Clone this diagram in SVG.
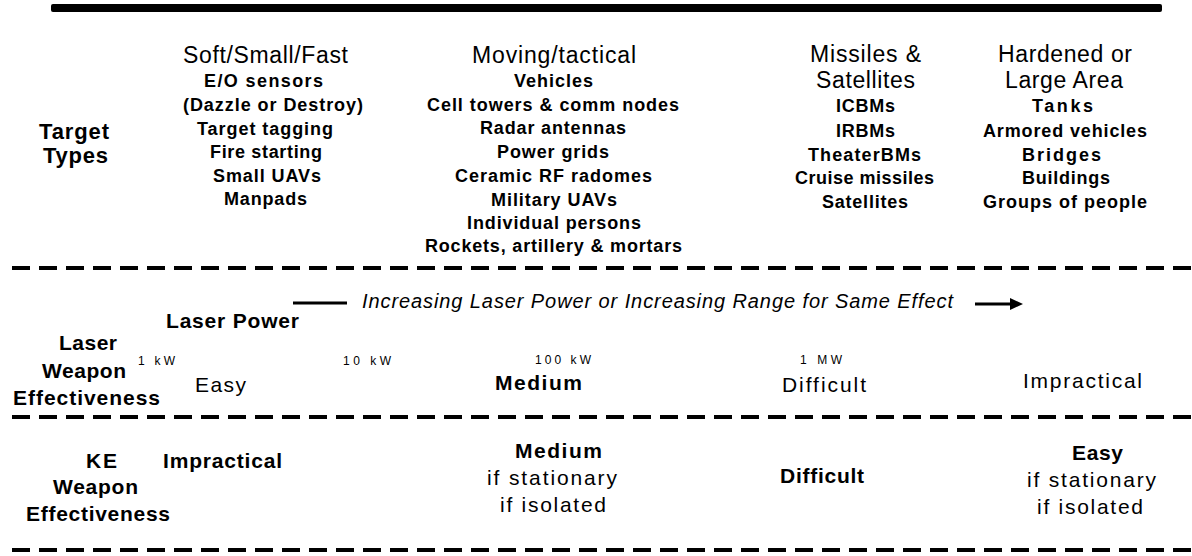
<svg xmlns="http://www.w3.org/2000/svg" width="1192" height="556" viewBox="0 0 1192 556">
<defs>
<style>
text{font-family:"Liberation Sans",Arial,Helvetica,sans-serif;fill:#000}
.hd{font-size:23px}
.it{font-size:18px;font-weight:bold}
.tt{font-size:22px;font-weight:bold}
.lb{font-size:21px;font-weight:bold}
.lp{font-size:21px;font-weight:bold}
.vr{font-size:21px}
.vb{font-size:21px;font-weight:bold}
.sm{font-size:12px}
.ital{font-size:20px;font-style:italic}
.dash{stroke:#000;stroke-width:4;stroke-dasharray:18 9;fill:none}
.conn{stroke:#000;stroke-width:3;fill:none}
</style>
</defs>
<rect x="0" y="0" width="1192" height="556" fill="#fff"/>
<rect x="51" y="4" width="1111" height="8" rx="2" fill="#000"/>
<line class="dash" x1="12" y1="268" x2="1192" y2="268"/>
<line class="dash" x1="12" y1="417" x2="1192" y2="417"/>
<line class="dash" x1="12" y1="550" x2="1192" y2="550"/>

<g id="target-types">
<text class="tt" x="39" y="139" textLength="70" lengthAdjust="spacing">Target</text>
<text class="tt" x="43" y="163" textLength="65" lengthAdjust="spacing">Types</text>
</g>

<g id="col-soft">
<text class="hd" x="183" y="63" textLength="165" lengthAdjust="spacing">Soft/Small/Fast</text>
<text class="it" x="204" y="87" textLength="119" lengthAdjust="spacing">E/O sensors</text>
<text class="it" x="183" y="111" textLength="180" lengthAdjust="spacing">(Dazzle or Destroy)</text>
<text class="it" x="197" y="135" textLength="136" lengthAdjust="spacing">Target tagging</text>
<text class="it" x="210" y="158" textLength="112" lengthAdjust="spacing">Fire starting</text>
<text class="it" x="213" y="182" textLength="108" lengthAdjust="spacing">Small UAVs</text>
<text class="it" x="224" y="205" textLength="83" lengthAdjust="spacing">Manpads</text>
</g>

<g id="col-moving">
<text class="hd" x="472" y="63" textLength="164" lengthAdjust="spacing">Moving/tactical</text>
<text class="it" x="514" y="87" textLength="79" lengthAdjust="spacing">Vehicles</text>
<text class="it" x="427" y="111" textLength="252" lengthAdjust="spacing">Cell towers &amp; comm nodes</text>
<text class="it" x="480" y="134" textLength="146" lengthAdjust="spacing">Radar antennas</text>
<text class="it" x="497" y="158" textLength="112" lengthAdjust="spacing">Power grids</text>
<text class="it" x="455" y="182" textLength="197" lengthAdjust="spacing">Ceramic RF radomes</text>
<text class="it" x="491" y="206" textLength="126" lengthAdjust="spacing">Military UAVs</text>
<text class="it" x="467" y="229" textLength="174" lengthAdjust="spacing">Individual persons</text>
<text class="it" x="425" y="252" textLength="257" lengthAdjust="spacing">Rockets, artillery &amp; mortars</text>
</g>

<g id="col-missiles">
<text class="hd" x="810" y="62" textLength="111" lengthAdjust="spacing">Missiles &amp;</text>
<text class="hd" x="816" y="88" textLength="99" lengthAdjust="spacing">Satellites</text>
<text class="it" x="836" y="112" textLength="59" lengthAdjust="spacing">ICBMs</text>
<text class="it" x="836" y="137" textLength="59" lengthAdjust="spacing">IRBMs</text>
<text class="it" x="808" y="161" textLength="113" lengthAdjust="spacing">TheaterBMs</text>
<text class="it" x="795" y="184" textLength="139" lengthAdjust="spacing">Cruise missiles</text>
<text class="it" x="822" y="208" textLength="86" lengthAdjust="spacing">Satellites</text>
</g>

<g id="col-hardened">
<text class="hd" x="998" y="62" textLength="134" lengthAdjust="spacing">Hardened or</text>
<text class="hd" x="1005" y="88" textLength="118" lengthAdjust="spacing">Large Area</text>
<text class="it" x="1032" y="112" textLength="61" lengthAdjust="spacing">Tanks</text>
<text class="it" x="983" y="137" textLength="164" lengthAdjust="spacing">Armored vehicles</text>
<text class="it" x="1022" y="161" textLength="79" lengthAdjust="spacing">Bridges</text>
<text class="it" x="1022" y="184" textLength="88" lengthAdjust="spacing">Buildings</text>
<text class="it" x="983" y="208" textLength="164" lengthAdjust="spacing">Groups of people</text>
</g>

<g id="connectors">
<line class="conn" x1="293" y1="303" x2="347" y2="303"/>
<line class="conn" x1="975" y1="304" x2="1012" y2="304" stroke-width="4"/>
<polygon points="1010,298 1023,304 1010,310" fill="#000"/>
</g>

<g id="laser-axis">
<text class="ital" x="362" y="308" textLength="591" lengthAdjust="spacing">Increasing Laser Power or Increasing Range for Same Effect</text>
<text class="lp" x="166" y="328" textLength="133" lengthAdjust="spacing">Laser Power</text>
<text class="sm" x="138" y="365" textLength="37" lengthAdjust="spacing">1 kW</text>
<text class="sm" x="343" y="365" textLength="48" lengthAdjust="spacing">10 kW</text>
<text class="sm" x="535" y="364" textLength="56" lengthAdjust="spacing">100 kW</text>
<text class="sm" x="800" y="364" textLength="42" lengthAdjust="spacing">1 MW</text>
</g>

<g id="laser-label">
<text class="lb" x="59" y="350" textLength="58" lengthAdjust="spacing">Laser</text>
<text class="lb" x="42" y="378" textLength="84" lengthAdjust="spacing">Weapon</text>
<text class="lb" x="13" y="405" textLength="147" lengthAdjust="spacing">Effectiveness</text>
</g>

<g id="laser-values">
<text class="vr" x="195" y="392" textLength="51" lengthAdjust="spacing">Easy</text>
<text class="vb" x="495" y="390" textLength="87" lengthAdjust="spacing">Medium</text>
<text class="vr" x="782" y="392" textLength="84" lengthAdjust="spacing">Difficult</text>
<text class="vr" x="1023" y="388" textLength="119" lengthAdjust="spacing">Impractical</text>
</g>

<g id="ke-label">
<text class="lb" x="86" y="468" textLength="31" lengthAdjust="spacing">KE</text>
<text class="lb" x="53" y="494" textLength="85" lengthAdjust="spacing">Weapon</text>
<text class="lb" x="26" y="521" textLength="144" lengthAdjust="spacing">Effectiveness</text>
</g>

<g id="ke-values">
<text class="vb" x="163" y="468" textLength="119" lengthAdjust="spacing">Impractical</text>
<text class="vb" x="515" y="458" textLength="87" lengthAdjust="spacing">Medium</text>
<text class="vr" x="487" y="485" textLength="130" lengthAdjust="spacing">if stationary</text>
<text class="vr" x="500" y="512" textLength="106" lengthAdjust="spacing">if isolated</text>
<text class="vb" x="780" y="483" textLength="84" lengthAdjust="spacing">Difficult</text>
<text class="vb" x="1072" y="460" textLength="51" lengthAdjust="spacing">Easy</text>
<text class="vr" x="1027" y="487" textLength="129" lengthAdjust="spacing">if stationary</text>
<text class="vr" x="1037" y="514" textLength="106" lengthAdjust="spacing">if isolated</text>
</g>
</svg>
